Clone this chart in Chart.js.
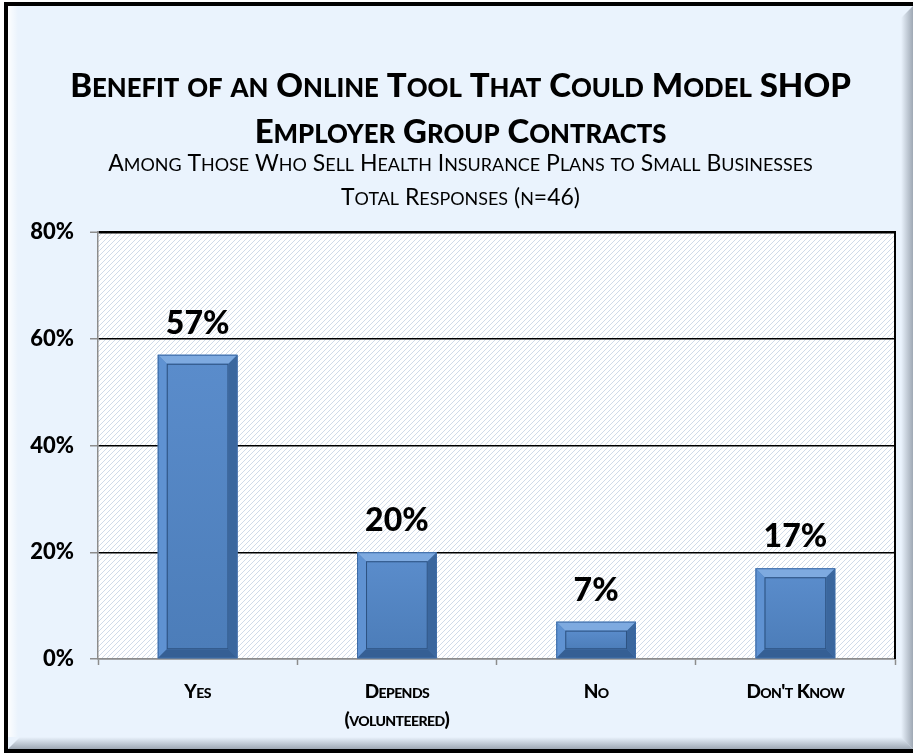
<!DOCTYPE html>
<html>
<head>
<meta charset="utf-8">
<title>Online Tool Benefit</title>
<script src="https://cdn.jsdelivr.net/npm/chart.js@4.4.1/dist/chart.umd.min.js"></script>
<style>
    html, body { margin: 0; padding: 0; background: #ffffff; }
    #wrap { position: relative; width: 913px; height: 753px; }
</style>
</head>
<body>
<div id="wrap"><canvas id="chart"></canvas></div>
<script>
// Chart data
const categories = [['Yes'], ['Depends', '(volunteered)'], ['No'], ["Don't Know"]];
const shares = [57, 20, 7, 17];
const yTicks = [0, 20, 40, 60, 80];
const titleLines = ['Benefit of an Online Tool That Could Model SHOP', 'Employer Group Contracts'];
const subtitleLines = ['Among Those Who Sell Health Insurance Plans to Small Businesses', 'Total Responses (n=46)'];

const FONT = 'Lato, "Open Sans", sans-serif';
const BAR_BLUE = '#4f81bd';
const AXIS_GREY = '#8c8c8c';

// Split text into runs of real capitals and lowercase letters shown as smaller capitals
function smallCapsRuns(text) {
    const runs = [];
    for (const ch of text) {
        const small = ch.toLowerCase() === ch && ch.toUpperCase() !== ch;
        const last = runs[runs.length - 1];
        if (last && last.small === small) {
            last.text += small ? ch.toUpperCase() : ch;
        } else {
            runs.push({ small, text: small ? ch.toUpperCase() : ch });
        }
    }
    return runs;
}

function drawSmallCaps(ctx, text, cx, y, size, weight, ratio, spacing) {
    const runs = smallCapsRuns(text);
    const fontFor = r => `${weight} ${r.small ? size * ratio : size}px ${FONT}`;
    ctx.letterSpacing = (spacing || 0) + 'px';
    let total = 0;
    runs.forEach(r => {
        ctx.font = fontFor(r);
        r.w = ctx.measureText(r.text).width;
        total += r.w;
    });
    let x = cx - total / 2;
    ctx.textAlign = 'left';
    ctx.textBaseline = 'alphabetic';
    runs.forEach(r => {
        ctx.font = fontFor(r);
        ctx.fillText(r.text, x, y);
        x += r.w;
    });
    ctx.letterSpacing = '0px';
}

function hatchPattern(ctx) {
    const tile = document.createElement('canvas');
    tile.width = 5;
    tile.height = 5;
    const t = tile.getContext('2d');
    t.fillStyle = '#ffffff';
    t.fillRect(0, 0, 5, 5);
    t.strokeStyle = '#d0dbe9';
    t.lineWidth = 1;
    t.beginPath();
    t.moveTo(-1, 6); t.lineTo(6, -1);
    t.moveTo(-6, 6); t.lineTo(1, -1);
    t.moveTo(4, 6); t.lineTo(11, -1);
    t.stroke();
    return ctx.createPattern(tile, 'repeat');
}

// Page background, beveled frame and hatched plot area
const backdrop = {
    id: 'backdrop',
    beforeDraw(chart) {
        const { ctx, width, height, chartArea } = chart;
        ctx.save();
        ctx.fillStyle = '#ffffff';
        ctx.fillRect(0, 0, width, height);
        ctx.fillStyle = '#000000';
        ctx.fillRect(4, 2, width - 4, height - 2);
        ctx.fillStyle = '#eaf3fd';
        ctx.fillRect(8, 6, width - 8, height - 10);

        // right and bottom bevel
        let g = ctx.createLinearGradient(width - 12, 0, width, 0);
        g.addColorStop(0, 'rgba(150,160,172,0)');
        g.addColorStop(1, 'rgba(150,160,172,0.9)');
        ctx.fillStyle = g;
        ctx.beginPath();
        ctx.moveTo(width - 12, 18); ctx.lineTo(width, 6);
        ctx.lineTo(width, height - 4); ctx.lineTo(width - 12, height - 16);
        ctx.closePath();
        ctx.fill();
        g = ctx.createLinearGradient(0, height - 16, 0, height - 4);
        g.addColorStop(0, 'rgba(150,160,172,0)');
        g.addColorStop(1, 'rgba(150,160,172,0.9)');
        ctx.fillStyle = g;
        ctx.beginPath();
        ctx.moveTo(20, height - 16); ctx.lineTo(width - 12, height - 16);
        ctx.lineTo(width, height - 4); ctx.lineTo(8, height - 4);
        ctx.closePath();
        ctx.fill();
        // left highlight
        g = ctx.createLinearGradient(8, 0, 18, 0);
        g.addColorStop(0, 'rgba(255,255,255,0.9)');
        g.addColorStop(1, 'rgba(255,255,255,0)');
        ctx.fillStyle = g;
        ctx.fillRect(8, 6, 10, height - 22);

        ctx.fillStyle = hatchPattern(ctx);
        ctx.fillRect(chartArea.left, chartArea.top, chartArea.width, chartArea.height);
        ctx.restore();
    }
};

// Bevel on each bar, value labels, right border and text
const decorations = {
    id: 'decorations',
    afterDatasetsDraw(chart) {
        const { ctx, chartArea } = chart;
        const meta = chart.getDatasetMeta(0);
        ctx.save();
        meta.data.forEach((bar, i) => {
            const l = bar.x - bar.width / 2;
            const r = bar.x + bar.width / 2;
            const t = bar.y;
            const b = bar.base;
            const bv = Math.min(9, (b - t) / 2 - 1);
            const quad = (pts, fill) => {
                ctx.fillStyle = fill;
                ctx.beginPath();
                ctx.moveTo(pts[0][0], pts[0][1]);
                pts.slice(1).forEach(p => ctx.lineTo(p[0], p[1]));
                ctx.closePath();
                ctx.fill();
            };
            quad([[l, t], [r, t], [r - bv, t + bv], [l + bv, t + bv]], '#7eaae0');
            quad([[l, t], [l + bv, t + bv], [l + bv, b - bv], [l, b]], '#5f92d2');
            quad([[r, t], [r, b], [r - bv, b - bv], [r - bv, t + bv]], '#3b679e');
            quad([[l, b], [l + bv, b - bv], [r - bv, b - bv], [r, b]], '#355f94');
            const face = ctx.createLinearGradient(0, t + bv, 0, b - bv);
            face.addColorStop(0, '#5a8ccb');
            face.addColorStop(1, '#4c7db9');
            ctx.fillStyle = face;
            ctx.fillRect(l + bv, t + bv, r - l - 2 * bv, b - t - 2 * bv);
            ctx.strokeStyle = '#2d5281';
            ctx.lineWidth = 1;
            ctx.strokeRect(l + bv + 0.5, t + bv + 0.5, r - l - 2 * bv - 1, b - t - 2 * bv - 1);
            ctx.strokeStyle = '#3d6ba6';
            ctx.strokeRect(l + 0.5, t + 0.5, r - l - 1, b - t - 1);

            ctx.fillStyle = '#000000';
            ctx.font = `900 32px ${FONT}`;
            ctx.textAlign = 'center';
            ctx.textBaseline = 'alphabetic';
            ctx.fillText(shares[i] + '%', bar.x, t - 21);
        });

        // right edge of plot frame
        ctx.strokeStyle = '#000000';
        ctx.lineWidth = 2;
        ctx.beginPath();
        ctx.moveTo(chartArea.right, chartArea.top - 1);
        ctx.lineTo(chartArea.right, chartArea.bottom);
        ctx.stroke();
        ctx.restore();
    },
    afterDraw(chart) {
        const { ctx } = chart;
        const cx = chart.width / 2 + 4;
        const xScale = chart.scales.x;
        ctx.save();
        ctx.fillStyle = '#000000';
        drawSmallCaps(ctx, titleLines[0], cx, 97, 33, '900', 0.78);
        drawSmallCaps(ctx, titleLines[1], cx, 143, 33, '900', 0.78);
        drawSmallCaps(ctx, subtitleLines[0], cx, 171, 23, 'normal', 0.78);
        drawSmallCaps(ctx, subtitleLines[1], cx, 205, 23, 'normal', 0.78);
        categories.forEach((lines, i) => {
            const x = xScale.getPixelForValue(i);
            lines.forEach((line, j) => {
                drawSmallCaps(ctx, line, x, 698 + j * 28, 19, '900', 0.74, -0.6);
            });
        });
        ctx.restore();
    }
};

new Chart(document.getElementById('chart'), {
    type: 'bar',
    data: {
        labels: categories.map(c => c.join(' ')),
        datasets: [{
            data: shares,
            backgroundColor: BAR_BLUE,
            borderWidth: 0,
            categoryPercentage: 1,
            barPercentage: 0.4
        }]
    },
    options: {
        responsive: true,
        maintainAspectRatio: false,
        animation: false,
        devicePixelRatio: 1,
        layout: { padding: { top: 232, right: 18, bottom: 0, left: 0 } },
        plugins: {
            legend: { display: false },
            tooltip: { enabled: false }
        },
        scales: {
            x: {
                grid: {
                    offset: true,
                    drawOnChartArea: false,
                    tickLength: 6,
                    tickColor: AXIS_GREY,
                    tickWidth: 1.5
                },
                border: { color: AXIS_GREY, width: 1.5 },
                ticks: { display: false },
                afterFit(scale) { scale.height = 94; }
            },
            y: {
                min: 0,
                max: 80,
                afterBuildTicks(scale) { scale.ticks = yTicks.map(v => ({ value: v })); },
                grid: {
                    color: c => c.tick && c.tick.value === 0 ? AXIS_GREY : '#000000',
                    lineWidth: c => c.tick && c.tick.value === 80 ? 2.5 : 1.5,
                    tickLength: 8,
                    tickColor: AXIS_GREY,
                    tickWidth: 1.5
                },
                border: { color: AXIS_GREY, width: 1.5 },
                ticks: {
                    padding: 16,
                    color: '#000000',
                    font: { family: FONT, size: 22, weight: '900' },
                    callback: v => v + '%'
                },
                afterFit(scale) { scale.width = 98; }
            }
        }
    },
    plugins: [backdrop, decorations]
});
</script>
</body>
</html>
